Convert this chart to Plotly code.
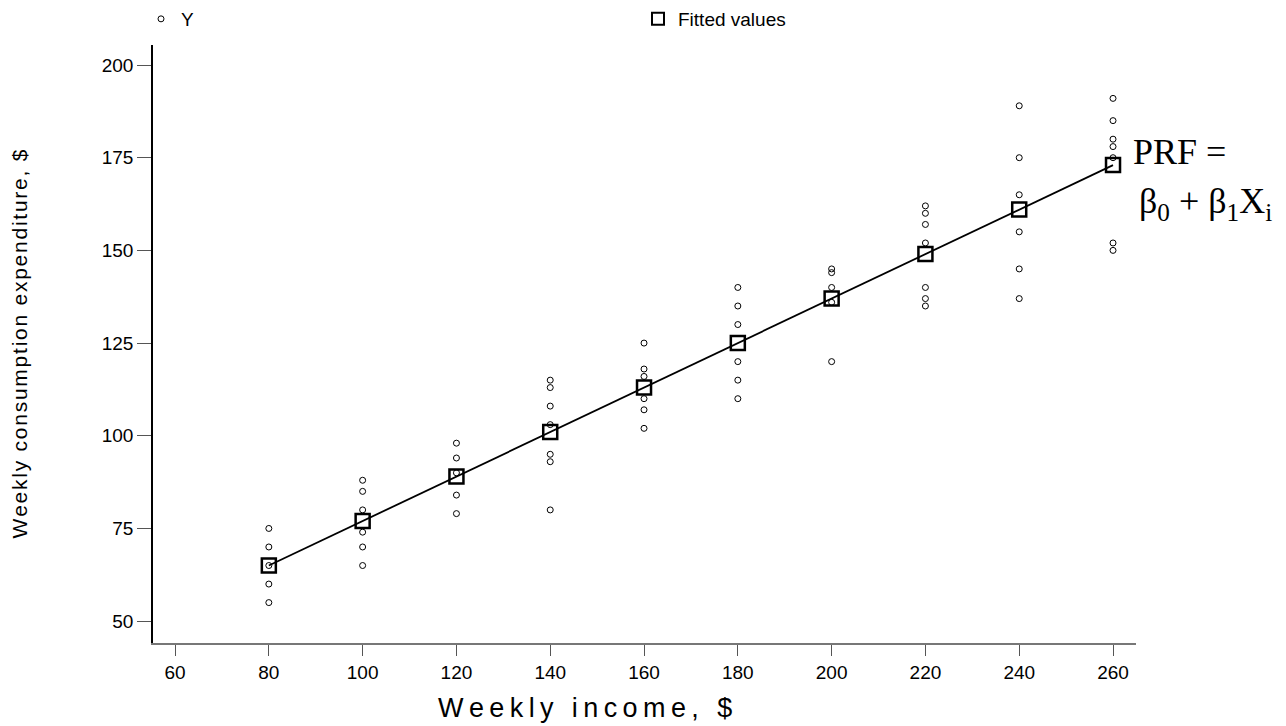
import plotly.graph_objects as go

# Weekly income groups and observed weekly consumption expenditure
income_levels = [80, 100, 120, 140, 160, 180, 200, 220, 240, 260]
consumption = {
    80: [55, 60, 65, 70, 75],
    100: [65, 70, 74, 80, 85, 88],
    120: [79, 84, 90, 94, 98],
    140: [80, 93, 95, 103, 108, 113, 115],
    160: [102, 107, 110, 116, 118, 125],
    180: [110, 115, 120, 130, 135, 140],
    200: [120, 136, 140, 144, 145],
    220: [135, 137, 140, 152, 157, 160, 162],
    240: [137, 145, 155, 165, 175, 189],
    260: [150, 152, 175, 178, 180, 185, 191],
}
fitted_values = [65, 77, 89, 101, 113, 125, 137, 149, 161, 173]

x_ticks = [60, 80, 100, 120, 140, 160, 180, 200, 220, 240, 260]
y_ticks = [50, 75, 100, 125, 150, 175, 200]

xs, ys = [], []
for x in income_levels:
    for y in consumption[x]:
        xs.append(x)
        ys.append(y)


def spaced(text, gap="\u200a"):
    return gap.join(list(text))


fig = go.Figure()
fig.add_trace(go.Scatter(
    x=xs, y=ys, mode="markers", name="Y", legend="legend",
    marker=dict(symbol="circle-open", size=6, color="black", line=dict(width=1, color="black")),
))
fig.add_trace(go.Scatter(
    x=income_levels, y=fitted_values, mode="lines", showlegend=False,
    line=dict(color="black", width=1.8), hoverinfo="skip",
))
fig.add_trace(go.Scatter(
    x=income_levels, y=fitted_values, mode="markers", name="Fitted values", legend="legend2",
    marker=dict(symbol="square-open", size=14, color="black", line=dict(width=2.5, color="black")),
))

font_family = "Liberation Sans, Arial, sans-serif"
serif = "Liberation Serif, Times New Roman, serif"

legend_common = dict(
    orientation="h", xref="container", yref="container",
    yanchor="middle", xanchor="left",
    font=dict(size=19, family=font_family), bgcolor="rgba(0,0,0,0)",
)

L, T, W, H = 145, 37, 983, 598

fig.update_layout(
    width=1286, height=726,
    paper_bgcolor="white", plot_bgcolor="white",
    margin=dict(l=L, r=1286 - L - W, t=T, b=726 - T - H, autoexpand=False),
    font=dict(family=font_family, color="black", size=15),
    showlegend=True,
    legend=dict(legend_common, x=133 / 1286, y=1 - 11 / 726),
    legend2=dict(legend_common, x=630 / 1286, y=1 - 11 / 726,
                 itemsizing="constant"),
    xaxis=dict(
        range=[55.3, 264.9], tickvals=x_ticks, showgrid=False, zeroline=False,
        showline=True, linecolor="#777777", linewidth=2,
        ticks="outside", ticklen=11, tickcolor="#555555", tickwidth=1.2,
        tickfont=dict(size=19),
    ),
    yaxis=dict(
        range=[44.1, 205.4], tickvals=y_ticks, showgrid=False, zeroline=False,
        showline=True, linecolor="black", linewidth=1.5,
        ticks="outside", ticklen=14, tickcolor="#555555", tickwidth=1.2,
        tickfont=dict(size=19),
        title=dict(text=spaced("Weekly consumption expenditure, $"), font=dict(size=21), standoff=70),
    ),
    annotations=[
        dict(text=spaced("Weekly income, $", "\u2009"),
             xref="paper", yref="paper", x=(585 - 153) / W, y=-(708 - 643) / H,
             xanchor="center", yanchor="middle",
             showarrow=False, font=dict(size=27, family=font_family)),
        dict(text="PRF =", xref="paper", yref="paper", x=(1131 - 153) / W, y=(643 - 152) / H,
             xanchor="left", yanchor="middle", showarrow=False,
             font=dict(size=36, family=serif)),
        dict(text="β<sub>0</sub> + β<sub>1</sub>X<sub>i</sub>", xref="paper", yref="paper",
             x=(1137 - 153) / W, y=(643 - 203) / H, xanchor="left", yanchor="middle", showarrow=False,
             font=dict(size=36, family=serif)),
    ],
)

fig.write_html("out.html")
